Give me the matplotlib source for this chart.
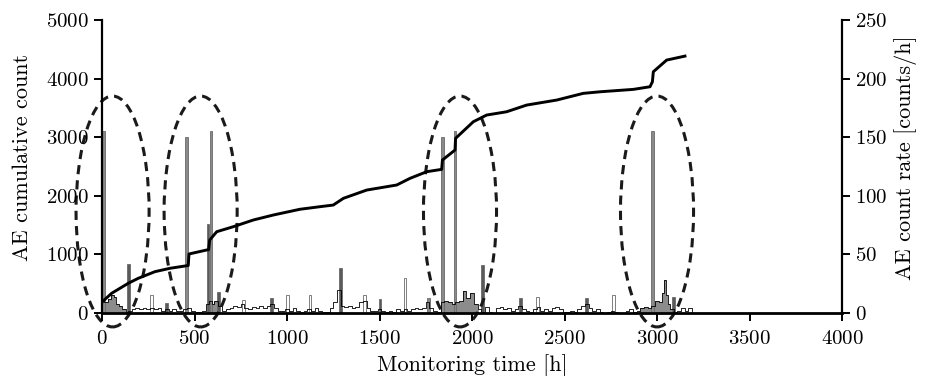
import matplotlib
matplotlib.use("Agg")
import matplotlib.pyplot as plt
from matplotlib.patches import Ellipse
import numpy as np

plt.rcParams['font.family'] = ['cmr10', 'DejaVu Serif']
plt.rcParams['axes.formatter.use_mathtext'] = True

# cumulative AE count (left axis)
cum_t = [0, 2, 52, 142, 196, 286, 368, 449, 466, 470, 566, 576, 582, 620, 710, 818,
         926, 1070, 1178, 1250, 1305, 1431, 1593, 1665, 1755, 1836, 1840, 1908, 1911,
         2007, 2079, 2187, 2295, 2458, 2601, 2692, 2872, 2962, 2975, 2980, 3052, 3151]
cum_v = [180, 193, 336, 507, 592, 705, 763, 802, 810, 1007, 1075, 1080, 1245, 1387,
         1473, 1587, 1672, 1770, 1814, 1842, 1957, 2098, 2184, 2298, 2411, 2451, 2610,
         2781, 2980, 3264, 3378, 3434, 3548, 3634, 3748, 3775, 3816, 3861, 3946, 4117,
         4316, 4384]

# background AE count rate profile (right axis)
rate_t = [0, 20, 40, 55, 70, 85, 100, 120, 135, 150, 170, 190, 210, 230, 250, 270,
          290, 310, 330, 350, 370, 390, 410, 430, 450, 470, 490, 510, 530, 550, 570,
          590, 600, 615, 640, 660, 680, 700, 720, 740, 760, 780, 800, 820, 840, 860,
          880, 900, 920, 940, 960, 980, 1000, 1020, 1040, 1060, 1080, 1100, 1120,
          1140, 1160, 1180, 1200, 1220, 1240, 1260, 1280, 1300, 1320, 1340, 1360,
          1380, 1400, 1420, 1440, 1460, 1480, 1500, 1520, 1540, 1560, 1580, 1600,
          1620, 1640, 1660, 1680, 1700, 1720, 1740, 1760, 1780, 1800, 1820, 1840,
          1860, 1880, 1900, 1920, 1940, 1960, 1980, 2000, 2020, 2040, 2060, 2080,
          2100, 2120, 2140, 2160, 2180, 2200, 2220, 2240, 2260, 2280, 2300, 2320,
          2340, 2360, 2380, 2400, 2420, 2440, 2460, 2480, 2500, 2520, 2540, 2560,
          2580, 2600, 2620, 2640, 2660, 2680, 2700, 2720, 2740, 2760, 2780, 2800,
          2820, 2840, 2860, 2880, 2900, 2920, 2940, 2960, 2980, 3000, 3020, 3030,
          3045, 3055, 3065, 3080, 3100, 3120, 3140, 3160, 3180, 3200]
rate_v = [10, 9, 12, 15, 14, 8, 6, 3, 1, 2, 3, 4, 3, 4, 3, 4,
          3, 4, 2, 3, 2, 3, 2, 2, 3, 4, 2, 1, 1, 2, 8,
          10, 8, 10, 6, 2, 3, 4, 6, 5, 8, 4, 3, 5, 4, 6,
          4, 6, 8, 4, 2, 2, 3, 2, 4, 2, 1, 2, 3,
          2, 4, 2, 1, 1, 4, 9, 20, 6, 5, 6, 4,
          5, 9, 10, 4, 2, 2, 3, 2, 1, 2, 1, 3,
          2, 3, 2, 3, 4, 3, 4, 9, 4, 2, 1, 9,
          10, 9, 8, 9, 10, 19, 13, 17, 8, 3, 1, 5,
          1, 0, 4, 5, 3, 4, 2, 3, 6, 3, 2, 1,
          3, 5, 2, 3, 2, 4, 5, 3, 1, 1, 2, 1,
          3, 6, 8, 4, 2, 3, 1, 0, 1, 2, 1, 0,
          0, 2, 3, 1, 2, 4, 5, 4, 6, 10, 9, 17,
          28, 15, 8, 3, 1, 2, 4, 2, 4, 0]

# burst periods shaded in grey
burst_start = [0, 560, 1830, 2890]
burst_end = [135, 645, 2045, 3100]

# isolated count-rate spikes: g = grey, d = dark, o = open
spike_t = [8, 142, 268, 350, 458, 572, 590, 629, 764, 917, 1002, 1124, 1290, 1418,
           1503, 1638, 1764, 1840, 1908, 2056, 2263, 2353, 2620, 2764, 2976, 3088]
spike_v = [155, 42, 15, 8.5, 150, 76, 155, 18, 11, 12.5, 15, 15, 38, 15,
           12, 30, 13, 150, 155, 41, 13, 14, 13, 15, 155, 14]
spike_kind = ['g', 'd', 'o', 'd', 'g', 'd', 'g', 'd', 'o', 'd', 'o', 'o', 'd', 'o',
              'd', 'o', 'g', 'g', 'g', 'd', 'd', 'o', 'd', 'o', 'g', 'd']

# dashed ellipses marking the burst periods
ellipse_t = [57, 533, 1935, 3000]

fig = plt.figure(figsize=(9.25, 3.76), dpi=100)
ax = fig.add_axes([0.1103, 0.1676, 0.80, 0.7792])
ax2 = ax.twinx()

rt = np.array(rate_t)
rv = np.array(rate_v)
for s, e in zip(burst_start, burst_end):
    m = (rt >= s) & (rt <= e)
    ax2.fill_between(rt[m], 0, rv[m], color='#8c8c8c', lw=0, step='mid')
ax2.plot(rt, rv, color='black', lw=0.6, drawstyle='steps-mid')

colors = {'g': '#8a8a8a', 'd': '#5a5a5a', 'o': 'white'}
for t, v, k in zip(spike_t, spike_v, spike_kind):
    ax2.bar(t, v, width=14, color=colors[k], edgecolor='#6a6a6a', lw=0.6)

ax.plot(cum_t, cum_v, color='black', lw=2.1, solid_joinstyle='round')

for t in ellipse_t:
    ax.add_patch(Ellipse((t, 1732), 395, 3940, fill=False, ec='#1a1a1a', lw=2.2,
                         ls=(0, (3, 2)), clip_on=False))

ax.set_zorder(ax2.get_zorder() + 1)
ax.patch.set_visible(False)

ax.set_xlim(0, 4000)
ax.set_ylim(0, 5000)
ax2.set_ylim(0, 250)
ax.set_xticks(range(0, 4001, 500))
ax.set_yticks(range(0, 5001, 1000))
ax2.set_yticks(range(0, 251, 50))

for a in (ax, ax2):
    a.spines['top'].set_visible(False)
    a.tick_params(labelsize=15, width=1.4, length=6, direction='out')
ax.tick_params(axis='x', pad=6)
ax.spines['right'].set_visible(False)
ax2.spines['left'].set_visible(False)
ax2.spines['bottom'].set_visible(False)
ax.spines['left'].set_linewidth(1.6)
ax.spines['bottom'].set_linewidth(2.0)
ax2.spines['right'].set_linewidth(1.6)

ax.set_xlabel('Monitoring time [h]', fontsize=16, labelpad=5)
ax.set_ylabel('AE cumulative count', fontsize=16)
ax2.set_ylabel('AE count rate [counts/h]', fontsize=16)
ax.yaxis.set_label_coords(-0.095, 0.53)
ax2.yaxis.set_label_coords(1.070, 0.53)

fig.savefig('out.png', dpi=100)
